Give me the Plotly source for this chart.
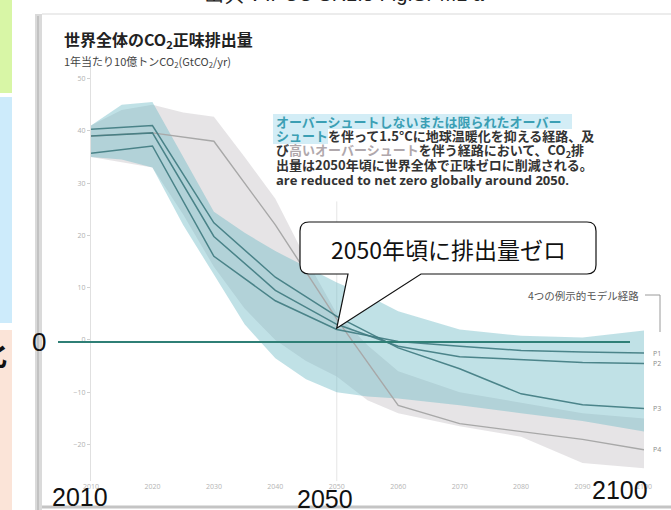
import plotly.graph_objects as go

# ---------------- data ----------------
years_band = [2010, 2015, 2020, 2025, 2030, 2035, 2040, 2045, 2050, 2055, 2060, 2070, 2080, 2090, 2100]
no_os_high = [41, 45, 45.5, 35, 24.5, 20.5, 17, 14, 11, 8.5, 5.5, 2, 0.8, 0.5, 1.8]
no_os_low = [35, 34.5, 33, 22, 12.5, 3, -3.5, -7.5, -10, -10.8, -11.2, -12.5, -14, -15.5, -17.5]
hi_os_high = [41, 44, 45, 43.5, 42.7, 35, 27, 15.5, 5, -1, -6, -10, -12, -14, -15]
hi_os_low = [35, 34, 33, 24, 14, 6, 0, -4, -7, -11.5, -14, -16.5, -18.5, -23.5, -24.5]

years_path = [2010, 2020, 2030, 2040, 2050, 2060, 2070, 2080, 2090, 2100]
p1 = [35.7, 37.1, 16, 7.5, 2, -0.3, -1.2, -2, -2.3, -2.5]
p2 = [39, 39.6, 19.8, 9.5, 3, -1.2, -3.2, -3.8, -4.3, -4.5]
p3 = [40.3, 41, 22.4, 12, 4.5, -1.5, -5.5, -10.3, -12.4, -13.1]
p4 = [39, 39.6, 38, 22, 4, -12.5, -16, -17.5, -19, -21]
path_names = ["P1", "P2", "P3", "P4"]

ytick_vals = [50, 40, 30, 20, 10, 0, -10, -20]
xtick_vals = [2010, 2020, 2030, 2040, 2050, 2060, 2070, 2080, 2090, 2100]
big_year_labels = ["2010", "2050", "2100"]

# ---------------- layout helpers ----------------
W, H = 671, 510


def X(p):
    return p / W


def Y(p):
    return 1 - p / H


TEAL_FILL = "rgba(108,186,197,0.43)"
GRAY_FILL = "rgba(205,202,206,0.5)"
TEAL_LINE = "rgba(62,122,128,0.9)"
GRAY_LINE = "#a8a8a8"

fig = go.Figure()


def band(xs, hi, lo, color):
    fig.add_trace(go.Scatter(
        x=list(xs) + list(xs)[::-1],
        y=list(hi) + list(lo)[::-1],
        fill="toself", fillcolor=color, mode="lines",
        line=dict(width=0), hoverinfo="skip", showlegend=False))


band(years_band, hi_os_high, hi_os_low, GRAY_FILL)
band(years_band, no_os_high, no_os_low, TEAL_FILL)

fig.add_trace(go.Scatter(x=years_path, y=p4, mode="lines",
                         line=dict(color=GRAY_LINE, width=1.4), name="P4"))
for name, vals in zip(path_names[:3], [p1, p2, p3]):
    fig.add_trace(go.Scatter(x=years_path, y=vals, mode="lines",
                             line=dict(color=TEAL_LINE, width=1.5), name=name))

shapes = []
annotations = []

# left colour strips of the slide
shapes += [
    dict(type="rect", xref="paper", yref="paper", x0=X(0), x1=X(12), y0=Y(0), y1=Y(93),
         fillcolor="#d8f6a6", line=dict(width=0), layer="below"),
    dict(type="rect", xref="paper", yref="paper", x0=X(0), x1=X(12), y0=Y(97), y1=Y(323),
         fillcolor="#cdebfb", line=dict(width=0), layer="below"),
    dict(type="rect", xref="paper", yref="paper", x0=X(0), x1=X(12), y0=Y(330), y1=Y(510),
         fillcolor="#fbe4d8", line=dict(width=0), layer="below"),
]
# chart panel frame / shadow
shapes += [
    dict(type="rect", xref="paper", yref="paper", x0=X(35), x1=X(42), y0=Y(14), y1=Y(510),
         fillcolor="#dadada", line=dict(width=0), layer="below"),
    dict(type="line", xref="paper", yref="paper", x0=X(38), x1=X(38), y0=Y(16), y1=Y(510),
         line=dict(color="#c2c2c2", width=2), layer="below"),
    dict(type="line", xref="paper", yref="paper", x0=X(42), x1=X(671), y0=Y(14), y1=Y(14),
         line=dict(color="#ececec", width=2), layer="below"),
    dict(type="line", xref="paper", yref="paper", x0=X(42), x1=X(671), y0=Y(507), y1=Y(507),
         line=dict(color="#c4c4c4", width=3), layer="below"),
]
# faint 2050 guide line
shapes.append(dict(type="line", xref="x", yref="y", x0=2050, x1=2050, y0=-27, y1=26.5,
                   line=dict(color="#e6e6e6", width=1), layer="below"))

# highlight behind the "no or limited overshoot" words
shapes += [
    dict(type="rect", xref="paper", yref="paper", x0=X(273), x1=X(572), y0=Y(114), y1=Y(129),
         fillcolor="#d3edf6", line=dict(width=0), layer="below"),
    dict(type="rect", xref="paper", yref="paper", x0=X(273), x1=X(328), y0=Y(129), y1=Y(144),
         fillcolor="#d3edf6", line=dict(width=0), layer="below"),
]

# slide's zero line
shapes.append(dict(type="line", xref="paper", yref="paper", x0=X(58), x1=X(630), y0=Y(342), y1=Y(342),
                   line=dict(color="#2f7f76", width=2)))

# legend bracket
shapes.append(dict(type="path", xref="paper", yref="paper",
                   path=f"M {X(645)} {Y(295)} L {X(660)} {Y(295)} L {X(660)} {Y(332)}",
                   line=dict(color="#9a9a9a", width=1)))

# callout bubble
l, r, t, b, rad = 300, 596, 222, 274, 9
tip = (336.7, 328.3)
pts = [
    f"M {X(l + rad)} {Y(t)}",
    f"L {X(r - rad)} {Y(t)}",
    f"Q {X(r)} {Y(t)} {X(r)} {Y(t + rad)}",
    f"L {X(r)} {Y(b - rad)}",
    f"Q {X(r)} {Y(b)} {X(r - rad)} {Y(b)}",
    f"L {X(421)} {Y(b)}",
    f"L {X(tip[0])} {Y(tip[1])}",
    f"L {X(348)} {Y(b)}",
    f"L {X(l + rad)} {Y(b)}",
    f"Q {X(l)} {Y(b)} {X(l)} {Y(b - rad)}",
    f"L {X(l)} {Y(t + rad)}",
    f"Q {X(l)} {Y(t)} {X(l + rad)} {Y(t)}",
    "Z",
]
shapes.append(dict(type="path", xref="paper", yref="paper", path=" ".join(pts),
                   fillcolor="white", line=dict(color="#111", width=1.2)))

JP = "Noto Sans CJK JP"


def ann(text, x, y, size, color="#222", xanchor="left", yanchor="middle", family=JP, weight="normal"):
    annotations.append(dict(text=text, x=X(x), y=Y(y), xref="paper", yref="paper",
                            xanchor=xanchor, yanchor=yanchor, showarrow=False,
                            font=dict(size=size, color=color, family=family, weight=weight)))


# cut-off heading at top of slide
ann("出典：IPCC SR1.5 Fig.SPM1 a", 345, -6, 20, "#222", xanchor="center", family="Liberation Sans")
# cut-off glyph on the left
ann("化", -8, 352, 30, "#111", xanchor="center", weight="bold")

# chart title
ann("世界全体のCO<sub>2</sub>正味排出量", 62, 40, 16, "#222", weight="bold")
ann("1年当たり10億トンCO<sub>2</sub>(GtCO<sub>2</sub>/yr)", 62, 61, 11, "#444")

# explanatory text block
BLUE_T = "#3b9fb4"
GRAY_T = "#b0a8ac"
DARK_T = "#333"
lines = [
    f"<span style='color:{BLUE_T}'>オーバーシュートしないまたは限られたオーバー</span>",
    f"<span style='color:{BLUE_T}'>シュート</span>を伴って1.5°Cに地球温暖化を抑える経路、及",
    f"び<span style='color:{GRAY_T}'>高いオーバーシュート</span>を伴う経路において、CO<sub>2</sub>排",
    "出量は2050年頃に世界全体で正味ゼロに削減される。",
]
for i, txt in enumerate(lines):
    ann(txt, 274, 121.5 + i * 14.5, 13, DARK_T, weight="bold")
ann("are reduced to net zero globally around 2050.", 274, 180, 13, DARK_T,
    family="Open Sans", weight="bold")

# callout text
ann("2050年頃に排出量ゼロ", 448, 249, 23, "#111", xanchor="center")

# legend text and path labels
ann("4つの例示的モデル経路", 641, 295, 10.5, "#555", xanchor="right")
for name, vals in zip(path_names, [p1, p2, p3, p4]):
    annotations.append(dict(text=name, x=2100, y=vals[-1], xref="x", yref="y",
                            xanchor="left", yanchor="middle", xshift=7, showarrow=False,
                            font=dict(size=7, color="#8a8a8a", family="Open Sans")))

# big slide labels
ann("0", 38.5, 342, 26, "#111", xanchor="center", family="Liberation Sans")
for lab, (x, y) in zip(big_year_labels, [(80, 497), (325, 499), (620, 490)]):
    ann(lab, x, y, 25, "#111", xanchor="center", family="Liberation Sans")

fig.update_layout(
    width=W, height=H, autosize=False,
    margin=dict(l=0, r=0, t=0, b=0, pad=0),
    paper_bgcolor="white", plot_bgcolor="rgba(0,0,0,0)",
    showlegend=False, template="none",
    shapes=shapes, annotations=annotations,
    xaxis=dict(domain=[91 / W, 644 / W], range=[2010, 2100], tickvals=xtick_vals,
               showgrid=False, zeroline=False, showline=False, ticks="",
               tickfont=dict(size=7, color="#b4b4b4", family="Open Sans"), automargin=False),
    yaxis=dict(domain=[1 - 481.2 / H, 1 - 68.04 / H], range=[-27, 52], tickvals=ytick_vals,
               showgrid=False, zeroline=False, showline=True, linecolor="#e0e0e0", linewidth=1,
               ticks="outside", ticklen=3, tickcolor="#d0d0d0",
               tickfont=dict(size=7, color="#b0b0b0", family="Open Sans"), automargin=False),
)

fig.write_html("out.html", config={"displayModeBar": False},
               post_script="document.body.style.margin='0';document.body.style.overflow='hidden';")
